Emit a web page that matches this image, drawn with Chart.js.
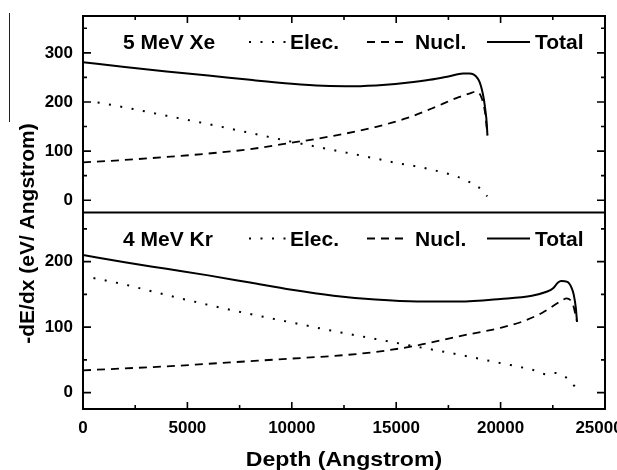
<!DOCTYPE html>
<html>
<head>
<meta charset="utf-8">
<script src="https://cdn.jsdelivr.net/npm/chart.js@4"></script>
<style>
html,body{margin:0;padding:0;background:#fff;}
#wrap{width:617px;height:470px;position:relative;}
</style>
</head>
<body>
<div id="wrap"><canvas id="c" width="617" height="470"></canvas></div>
<script>
// ---- tick labels / categories ----
const xTickValues = [0, 5000, 10000, 15000, 20000, 25000];
const xTickLabels = ['0', '5000', '10000', '15000', '20000', '25000'];
const yXeTicks = [0, 100, 200, 300];
const yKrTicks = [0, 100, 200];
const panelTitles = ['5 MeV Xe', '4 MeV Kr'];
const seriesNames = ['Elec.', 'Nucl.', 'Total'];
const xTitle = 'Depth (Angstrom)';
const yTitle = '-dE/dx (eV/ Angstrom)';

// ---- 5 MeV Xe ----
const xeElecDepth = [700, 2000, 4000, 6000, 8000, 10000, 12000, 14000, 15000, 16200, 17200, 17800, 18300, 18850, 19150, 19360];
const xeElec      = [199, 189, 172, 155, 137, 119, 102, 85, 76, 67, 57, 50, 41, 29, 19, 8];
const xeNuclDepth = [0, 2000, 4000, 6000, 8000, 10000, 12000, 14000, 15500, 17000, 18000, 18500, 18800, 18950, 19100, 19250, 19370];
const xeNucl      = [77, 82, 88, 95, 104, 117, 131, 149, 167, 192, 210, 217, 221, 219, 207, 180, 132];
const xeTotalDepth = [0, 2000, 4000, 6000, 8000, 10000, 11500, 13000, 14500, 15500, 16600, 17500, 18200, 18500, 18700, 18900, 19000, 19100, 19200, 19280, 19330, 19370];
const xeTotal      = [281, 271, 262, 254, 245, 237, 233, 232, 235, 239, 245, 252, 258, 258, 256, 248, 240, 226, 205, 180, 160, 132];

// ---- 4 MeV Kr ----
const krElecDepth = [500, 2000, 4000, 6000, 8000, 10000, 12000, 14000, 16000, 18000, 20000, 21500, 22200, 22600, 23100, 23400, 23620];
const krElec      = [175, 165, 149, 134, 120, 107, 94, 82, 70, 58, 45, 35, 28, 30, 24, 15, 7];
const krNuclDepth = [0, 2000, 4000, 6000, 8000, 10000, 12000, 14000, 16000, 18000, 20000, 21000, 22000, 22600, 23000, 23150, 23350, 23480, 23580, 23660];
const krNucl      = [34, 37, 40, 44, 48, 52, 56, 62, 72, 86, 99, 108, 122, 134, 142, 144, 141, 133, 120, 108];
const krTotalDepth = [0, 2000, 4000, 6000, 8000, 10000, 12000, 14000, 16000, 18000, 20000, 21500, 22200, 22500, 22750, 22900, 23200, 23400, 23500, 23600, 23660];
const krTotal      = [210, 199, 189, 179, 168, 157, 148, 142, 139, 139, 143, 148, 154, 159, 168, 170.5, 169, 160, 150, 130, 108];

const zip = (xs, ys) => xs.map((x, i) => ({x: x, y: ys[i]}));

const FONT = '"Liberation Sans", Arial, Helvetica, sans-serif';
Chart.defaults.font.family = FONT;
Chart.defaults.color = '#000';

const styles = [
  {borderDash: [2, 9.5], borderWidth: 2},
  {borderDash: [8, 6], borderWidth: 1.8},
  {borderDash: [], borderWidth: 2}
];

function makeDs(name, axis, pts, st) {
  return {
    label: name, yAxisID: axis, data: pts,
    borderColor: '#000', backgroundColor: '#000',
    borderWidth: st.borderWidth, borderDash: st.borderDash,
    pointRadius: 0, fill: false, cubicInterpolationMode: 'monotone'
  };
}

const datasets = [
  makeDs(seriesNames[0], 'yXe', zip(xeElecDepth, xeElec), styles[0]),
  makeDs(seriesNames[1], 'yXe', zip(xeNuclDepth, xeNucl), styles[1]),
  makeDs(seriesNames[2], 'yXe', zip(xeTotalDepth, xeTotal), styles[2]),
  makeDs(seriesNames[0], 'yKr', zip(krElecDepth, krElec), styles[0]),
  makeDs(seriesNames[1], 'yKr', zip(krNuclDepth, krNucl), styles[1]),
  makeDs(seriesNames[2], 'yKr', zip(krTotalDepth, krTotal), styles[2])
];

const legendItems = [
  {from: 166, to: 205, text: 207},
  {from: 284, to: 321, text: 332},
  {from: 404, to: 447, text: 452}
];

function drawPanelLegend(chart, scale, title) {
  const ctx = chart.ctx;
  const L = chart.chartArea.left, T = scale.top;
  const base = T + 33, ly = T + 26;
  ctx.save();
  ctx.fillStyle = '#000';
  ctx.strokeStyle = '#000';
  ctx.font = 'bold 21px ' + FONT;
  ctx.textAlign = 'left';
  ctx.textBaseline = 'alphabetic';
  ctx.fillText(title, L + 40, base);
  const ds = chart.data.datasets.filter(d => d.yAxisID === scale.id);
  ds.forEach((d, i) => {
    const it = legendItems[i];
    ctx.setLineDash(d.borderDash || []);
    ctx.lineWidth = d.borderWidth;
    ctx.beginPath();
    ctx.moveTo(L + it.from, ly);
    ctx.lineTo(L + it.to, ly);
    ctx.stroke();
    ctx.setLineDash([]);
    ctx.fillText(d.label, L + it.text, base);
  });
  ctx.restore();
}

const framePlugin = {
  id: 'frame',
  afterDraw(chart) {
    const {ctx, chartArea: ca, scales} = chart;
    const xs = scales.x, sTop = scales.yXe, sBot = scales.yKr;
    ctx.save();
    ctx.strokeStyle = '#000';
    ctx.lineWidth = 2;
    ctx.strokeRect(ca.left, ca.top, ca.right - ca.left, ca.bottom - ca.top);
    ctx.beginPath();
    ctx.moveTo(ca.left, sTop.bottom);
    ctx.lineTo(ca.right, sTop.bottom);
    ctx.stroke();

    // inward x ticks
    ctx.lineWidth = 1.6;
    ctx.beginPath();
    for (let v = xs.min; v <= xs.max; v += 2500) {
      const px = xs.getPixelForValue(v);
      const len = (v % 5000 === 0) ? 7 : 4;
      ctx.moveTo(px, ca.top); ctx.lineTo(px, ca.top + len);
      ctx.moveTo(px, ca.bottom); ctx.lineTo(px, ca.bottom - len);
    }
    // inward y ticks
    [sTop, sBot].forEach(s => {
      for (let v = Math.ceil(s.min / 50) * 50; v <= s.max; v += 50) {
        const py = s.getPixelForValue(v);
        const len = (v % 100 === 0) ? 8 : 4;
        ctx.moveTo(ca.left, py); ctx.lineTo(ca.left + len, py);
        ctx.moveTo(ca.right, py); ctx.lineTo(ca.right - len, py);
      }
    });
    ctx.stroke();
    ctx.restore();

    drawPanelLegend(chart, sTop, panelTitles[0]);
    drawPanelLegend(chart, sBot, panelTitles[1]);

    // axis titles
    ctx.save();
    ctx.fillStyle = '#000';
    ctx.font = 'bold 21px ' + FONT;
    ctx.textAlign = 'center';
    ctx.textBaseline = 'alphabetic';
    ctx.save();
    ctx.translate((ca.left + ca.right) / 2, 466);
    ctx.scale(1.1, 1);
    ctx.fillText(xTitle, 0, 0);
    ctx.restore();
    ctx.translate(28, (ca.top + ca.bottom) / 2 + 21);
    ctx.rotate(-Math.PI / 2);
    ctx.textBaseline = 'middle';
    ctx.fillText(yTitle, 0, 0);
    ctx.restore();

    // stray border line at far left of the reference
    ctx.save();
    ctx.strokeStyle = '#222';
    ctx.lineWidth = 1;
    ctx.beginPath();
    ctx.moveTo(9.5, 13); ctx.lineTo(9.5, 122);
    ctx.stroke();
    ctx.restore();
  }
};

const tickFont = {size: 17, weight: 'bold', family: FONT};

function noPadX(s) { s.height = 61; s.paddingLeft = 0; s.paddingRight = 0; s.paddingTop = 0; s.paddingBottom = 0; }
function noPadY(s) { s.width = 83; s.paddingLeft = 0; s.paddingRight = 0; s.paddingTop = 0; s.paddingBottom = 0; }

new Chart(document.getElementById('c'), {
  type: 'line',
  data: {datasets: datasets},
  options: {
    responsive: false,
    animation: false,
    devicePixelRatio: 1,
    layout: {padding: {top: 16, right: 12, bottom: 0, left: 0}, autoPadding: false},
    plugins: {legend: {display: false}, tooltip: {enabled: false}},
    scales: {
      x: {
        type: 'linear', min: 0, max: 25000,
        grid: {display: false, drawTicks: false},
        border: {display: false},
        afterBuildTicks: s => { s.ticks = xTickValues.map(v => ({value: v})); },
        afterFit: noPadX,
        ticks: {
          font: tickFont, color: '#000', padding: 9, maxRotation: 0, autoSkip: false,
          callback: (v, i, arr) => {
            const lbl = xTickLabels[xTickValues.indexOf(v)];
            return (i === arr.length - 1) ? lbl + '\u2002\u2009' : lbl;
          }
        }
      },
      yKr: {
        type: 'linear', position: 'left', stack: 'panels', stackWeight: 1,
        min: -25, max: 275,
        grid: {display: false, drawTicks: false},
        border: {display: false},
        afterBuildTicks: s => { s.ticks = yKrTicks.map(v => ({value: v})); },
        afterFit: noPadY,
        ticks: {font: tickFont, color: '#000', padding: 10}
      },
      yXe: {
        type: 'linear', position: 'left', stack: 'panels', stackWeight: 1,
        min: -25, max: 375,
        grid: {display: false, drawTicks: false},
        border: {display: false},
        afterBuildTicks: s => { s.ticks = yXeTicks.map(v => ({value: v})); },
        afterFit: noPadY,
        ticks: {font: tickFont, color: '#000', padding: 10}
      }
    }
  },
  plugins: [framePlugin]
});
</script>
</body>
</html>
